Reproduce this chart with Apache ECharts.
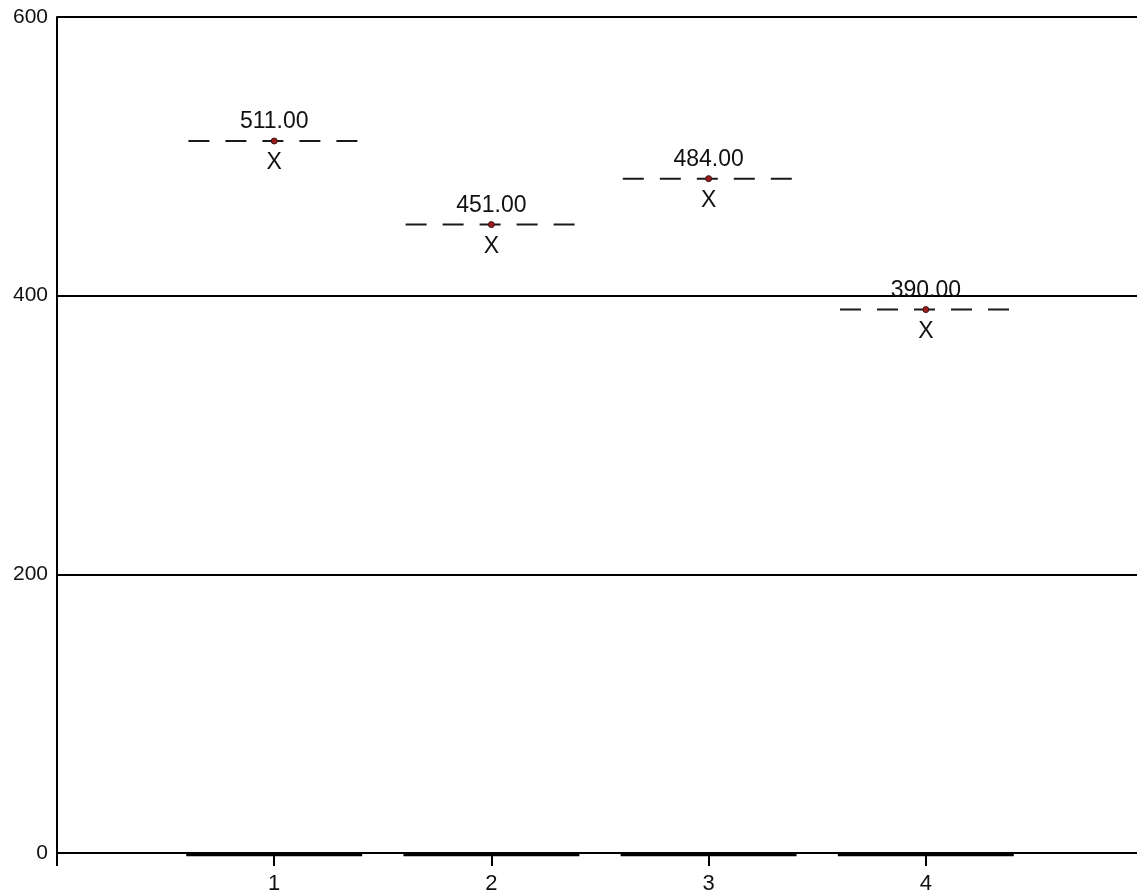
<!DOCTYPE html>
<html>
<head>
<meta charset="utf-8">
<script src="https://cdn.jsdelivr.net/npm/echarts@6/dist/echarts.min.js"></script>
<style>html,body{margin:0;padding:0;background:#fff;}#c{width:1137px;height:896px;}</style>
</head>
<body>
<div id="c"></div>
<script>
const categories = [1, 2, 3, 4];
const values = [511, 451, 484, 390];
const yTicks = [0, 200, 400, 600];

const chart = echarts.init(document.getElementById('c'));
const pts = categories.map((c, i) => [c, values[i]]);
const FONT = 'Liberation Sans, Arial, sans-serif';

chart.setOption({
  animation: false,
  grid: { left: 57, right: -6, top: 17, bottom: 43, outerBoundsMode: 'none', containLabel: false },
  xAxis: {
    type: 'value', min: 0, max: 5, interval: 1,
    axisLine: { show: true, lineStyle: { color: '#000', width: 2 } },
    axisTick: { show: true, length: 13, lineStyle: { color: '#000', width: 2 } },
    splitLine: { show: false },
    axisLabel: {
      margin: 20, color: '#111', fontSize: 22, fontFamily: FONT,
      formatter: v => categories.includes(v) ? String(v) : ''
    }
  },
  yAxis: {
    type: 'value', min: yTicks[0], max: yTicks[yTicks.length - 1], interval: 200,
    axisLine: { show: true, lineStyle: { color: '#000', width: 2 } },
    axisTick: { show: false },
    splitLine: { show: true, lineStyle: { color: '#000', width: 2 } },
    axisLabel: { margin: 9, color: '#111', fontSize: 21, fontFamily: FONT }
  },
  series: [
    {
      type: 'custom',
      data: pts,
      z: 2,
      renderItem: function (params, api) {
        const x = api.value(0), y = api.value(1);
        const p1 = api.coord([x - 0.395, y]);
        const p2 = api.coord([x + 0.395, y]);
        const c = api.coord([x, y]);
        const b1 = api.coord([x - 0.405, 0]);
        const b2 = api.coord([x + 0.405, 0]);
        return {
          type: 'group',
          children: [
            { type: 'line', shape: { x1: p1[0], y1: p1[1], x2: p2[0], y2: p2[1] },
              style: { stroke: '#1a1a1a', lineWidth: 2, lineDash: [21, 16] } },
            { type: 'line', shape: { x1: b1[0], y1: b1[1] + 1.5, x2: b2[0], y2: b2[1] + 1.5 },
              style: { stroke: '#000', lineWidth: 3.5 } },
            { type: 'text', x: c[0], y: c[1] + 22,
              style: { text: 'X', fill: '#111', fontSize: 23, fontFamily: FONT, align: 'center', verticalAlign: 'middle' } }
          ]
        };
      }
    },
    {
      type: 'scatter',
      data: pts,
      z: 3,
      symbol: 'circle',
      symbolSize: 6,
      itemStyle: { color: '#9b1c1c', borderColor: '#3a1010', borderWidth: 1, opacity: 1 },
      label: {
        show: true, position: 'top', distance: 4, opacity: 1,
        formatter: p => p.value[1].toFixed(2),
        color: '#111', fontSize: 23, fontFamily: FONT
      }
    }
  ]
});
</script>
</body>
</html>
